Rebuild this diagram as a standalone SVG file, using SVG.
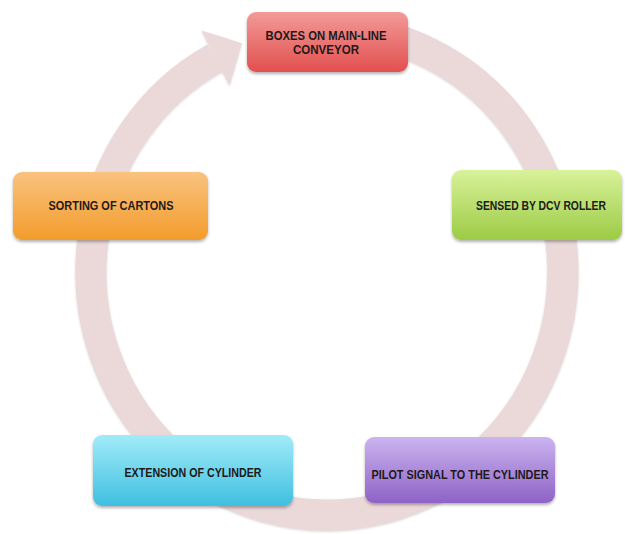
<svg xmlns="http://www.w3.org/2000/svg" width="625" height="534" viewBox="0 0 625 534">
<defs>
<style>
.box{stroke:none;filter:url(#sh)}
.lbl{font-family:"Liberation Sans",Arial,sans-serif;font-weight:bold;font-size:12px;fill:#1e1a1a;text-anchor:middle}
.ring{fill:none;stroke:#ebd8d9;stroke-width:31}
</style>
<filter id="sh" x="-10%" y="-10%" width="120%" height="140%">
<feDropShadow dx="0" dy="2" stdDeviation="1.8" flood-color="#000" flood-opacity="0.3"/>
</filter>
<filter id="rsh" x="-10%" y="-10%" width="120%" height="120%">
<feDropShadow dx="0" dy="1" stdDeviation="1" flood-color="#888" flood-opacity="0.35"/>
</filter>
<linearGradient id="gRed" x1="0" y1="0" x2="0" y2="1"><stop offset="0" stop-color="#f29a98"/><stop offset="1" stop-color="#e2504f"/></linearGradient>
<linearGradient id="gOra" x1="0" y1="0" x2="0" y2="1"><stop offset="0" stop-color="#f9c27f"/><stop offset="1" stop-color="#f39c2c"/></linearGradient>
<linearGradient id="gGrn" x1="0" y1="0" x2="0" y2="1"><stop offset="0" stop-color="#d8f29a"/><stop offset="1" stop-color="#9ccb45"/></linearGradient>
<linearGradient id="gCya" x1="0" y1="0" x2="0" y2="1"><stop offset="0" stop-color="#a2ebf9"/><stop offset="1" stop-color="#3fbfe0"/></linearGradient>
<linearGradient id="gPur" x1="0" y1="0" x2="0" y2="1"><stop offset="0" stop-color="#cbb4f0"/><stop offset="1" stop-color="#8e62c6"/></linearGradient>
</defs>
<rect width="625" height="534" fill="#ffffff"/>
<g id="connectors" filter="url(#rsh)">
<path class="ring" d="M327,29 A236,243 0 1 1 215.1,58.0"/>
<polygon points="201.5,30.5 241.8,43.2 229.5,85.5" fill="#ebd8d9"/>
</g>
<g id="n1">
<rect class="box" x="247" y="12" width="161" height="60" rx="9" fill="url(#gRed)"/>
<text class="lbl" x="326" y="40" textLength="121" lengthAdjust="spacingAndGlyphs">BOXES ON MAIN-LINE</text>
<text class="lbl" x="326" y="54" textLength="66" lengthAdjust="spacingAndGlyphs">CONVEYOR</text>
</g>
<g id="n2">
<rect class="box" x="452" y="170" width="170" height="70" rx="9" fill="url(#gGrn)"/>
<text class="lbl" x="541" y="210" textLength="130" lengthAdjust="spacingAndGlyphs">SENSED BY DCV ROLLER</text>
</g>
<g id="n3">
<rect class="box" x="365" y="437" width="190" height="66" rx="9" fill="url(#gPur)"/>
<text class="lbl" x="460" y="479" textLength="177" lengthAdjust="spacingAndGlyphs">PILOT SIGNAL TO THE CYLINDER</text>
</g>
<g id="n4">
<rect class="box" x="93" y="435" width="200" height="71" rx="9" fill="url(#gCya)"/>
<text class="lbl" x="193" y="477" textLength="137" lengthAdjust="spacingAndGlyphs">EXTENSION OF CYLINDER</text>
</g>
<g id="n5">
<rect class="box" x="13" y="172" width="195" height="68" rx="9" fill="url(#gOra)"/>
<text class="lbl" x="111" y="210" textLength="125" lengthAdjust="spacingAndGlyphs">SORTING OF CARTONS</text>
</g>
</svg>
